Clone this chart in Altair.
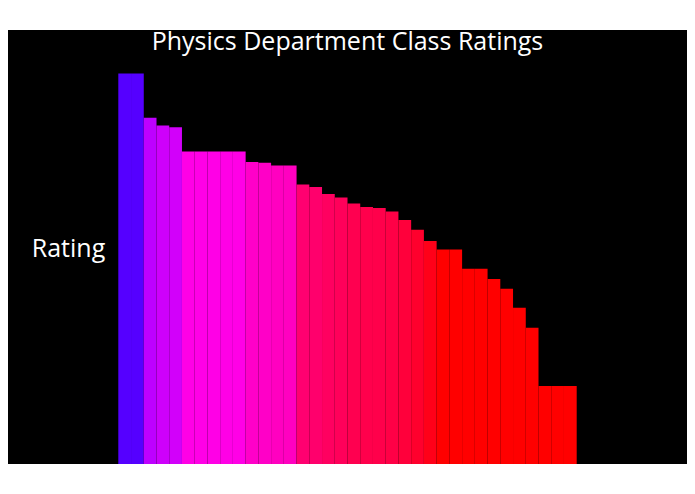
import altair as alt
import pandas as pd

title_text = ["Physics Department Class Ratings"]
classes = ["1", "2", "3", "4", "5", "6", "7", "8", "9", "10", "11", "12",
           "13", "14", "15", "16", "17", "18", "19", "20", "21", "22", "23", "24",
           "25", "26", "27", "28", "29", "30", "31", "32", "33", "34", "35", "36"]
ratings = [4.50, 4.50, 3.99, 3.90, 3.88, 3.60, 3.60, 3.60, 3.60, 3.60, 3.48, 3.47,
           3.44, 3.44, 3.22, 3.19, 3.11, 3.07, 3.00, 2.96, 2.95, 2.91, 2.81, 2.70,
           2.57, 2.47, 2.47, 2.25, 2.25, 2.13, 2.02, 1.80, 1.57, 0.90, 0.90, 0.90]

color_stops = [2.47, 3.0, 3.22, 3.44, 3.6, 3.95, 4.5]
color_values = ["#ff0000", "#ff0050", "#ff0070", "#ff00c0", "#ff00e6", "#c400ff", "#5500ff"]

df = pd.DataFrame({"Class": classes, "Rating": ratings})

FONT = "Open Sans"

bars = alt.Chart(df).mark_bar().encode(
    x=alt.X("Class:N", sort=None, axis=None,
            scale=alt.Scale(paddingInner=0, paddingOuter=0, range=[110.3, 568.7])),
    y=alt.Y("Rating:Q", scale=alt.Scale(domain=[0, 5], nice=False),
            axis=alt.Axis(title="Rating", labels=False, ticks=False, domain=False,
                          grid=False, titleAngle=0, titleX=60, titleY=226,
                          titleAlign="center", titleBaseline="alphabetic",
                          titleFont=FONT, titleFontSize=25, titleFontWeight=400,
                          titleColor="white")),
    color=alt.Color("Rating:Q", legend=None,
                    scale=alt.Scale(domain=color_stops, range=color_values, clamp=True)),
)

title = alt.Chart(pd.DataFrame({"t": title_text})).mark_text(
    color="white", font=FONT, fontSize=25, fontWeight=400,
    align="center", baseline="alphabetic"
).encode(
    text="t:N",
    x=alt.value(339.5),
    y=alt.value(19.7),
)

chart = alt.layer(bars, title).properties(
    width=679,
    height=434,
    autosize=alt.AutoSizeParams(type="none"),
    padding={"left": 0, "top": 22, "right": 0, "bottom": 0},
    background="white",
).configure_view(fill="black", stroke="black", strokeWidth=0)

chart.save("out.html", embed_options={"renderer": "svg", "actions": False})
